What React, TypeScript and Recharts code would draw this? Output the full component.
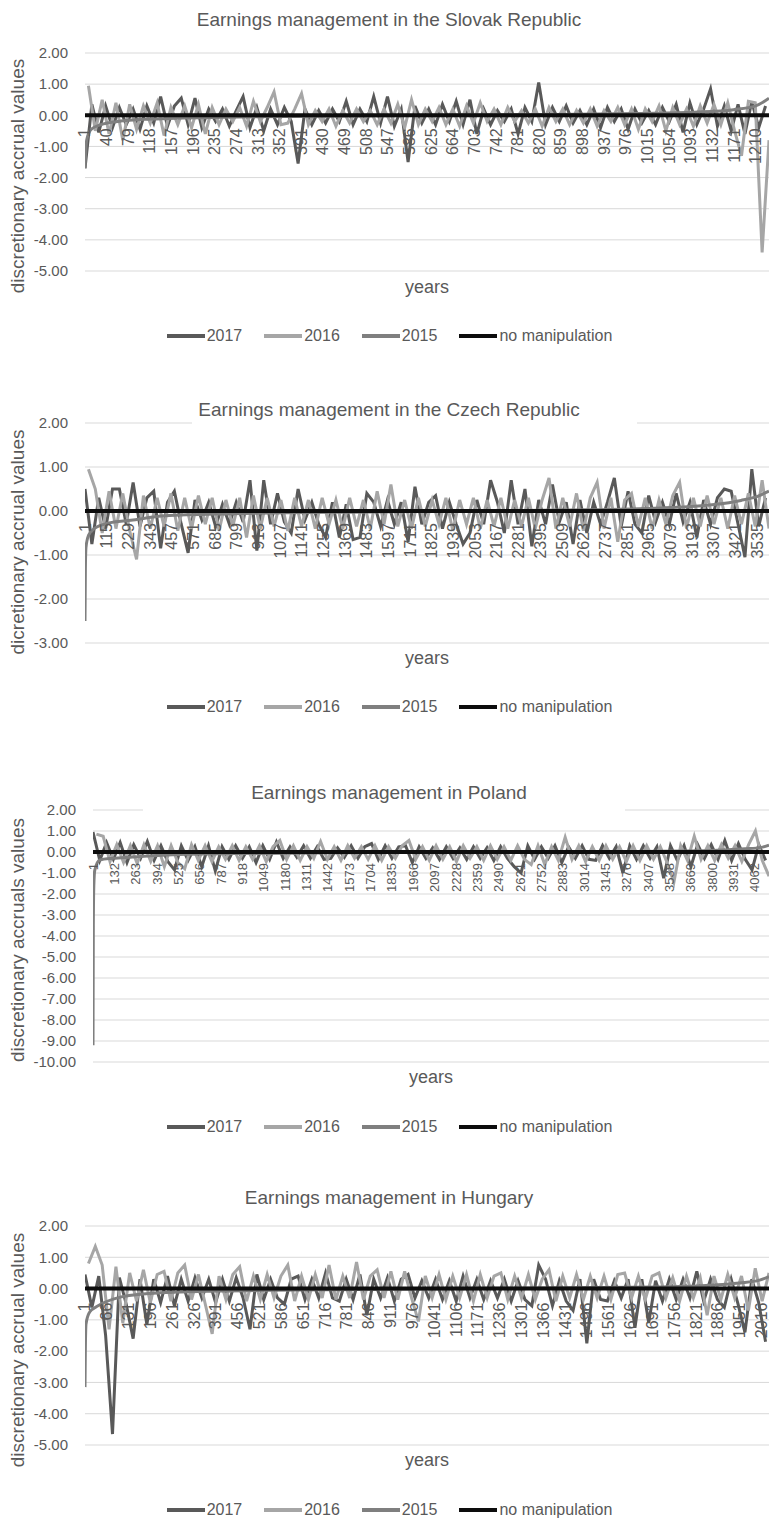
import React from 'react';
import { LineChart, Line, XAxis, YAxis, CartesianGrid, Legend } from 'recharts';

const FONT = "'Liberation Sans', Arial, sans-serif";
const TEXT = '#595959';
const GRID = '#d9d9d9';

const colors: Record<string, string> = {
  '2017': '#595959',
  '2016': '#a6a6a6',
  '2015': '#7f7f7f',
  'no manipulation': '#0d0d0d',
};
const legendOrder = ['2017', '2016', '2015', 'no manipulation'];

// ---- Slovak Republic ----
const slovakFirms = 1234;
const slovakTicks = [1, 40, 79, 118, 157, 196, 235, 274, 313, 352, 391, 430, 469, 508, 547, 586, 625, 664, 703, 742, 781, 820, 859, 898, 937, 976, 1015, 1054, 1093, 1132, 1171, 1210];
const slovak2017 = [
  -1.7, 0.35, -0.55, 0.3, -0.4, 0.25, -0.3, 0.2, -0.45, 0.3,
  -0.25, 0.6, -0.35, 0.3, 0.55, -0.3, 0.55, -0.4, 0.2, -0.2,
  0.2, -0.35, 0.15, 0.6, -0.4, 0.25, -0.5, 0.2, -0.3, 0.25,
  -0.2, -1.55, 0.2, -0.3, 0.15, -0.25, 0.2, -0.2, 0.45, -0.3,
  0.2, -0.2, 0.6, -0.25, 0.6, -0.35, 0.2, -1.5, 0.3, -0.25,
  0.2, -0.3, 0.35, -0.2, 0.45, -0.3, 0.5, -0.6, 0.2, -0.3,
  0.15, -0.2, 0.2, -0.6, 0.25, -0.2, 1.05, -0.3, 0.25, -0.2,
  0.3, -0.25, 0.15, -0.3, 0.2, -0.4, 0.25, -0.2, 0.2, -0.45,
  0.2, -0.25, 0.15, -0.3, 0.25, -0.2, 0.35, -0.55, 0.4, -0.3,
  0.2, 0.85, -0.35, 0.3, -0.5, 0.35, -0.6, 0.45, -0.4, 0.3,
];
const slovak2016 = [
  0.95, -0.5, 0.5, -0.6, 0.4, -0.8, 0.35, -0.45, 0.3, -0.25,
  0.4, -0.65, 0.25, -0.3, 0.3, -0.4, 0.35, -0.6, 0.25, -0.3,
  0.2, -0.2, 0.25, -0.35, 0.45, -0.2, 0.25, 0.75, -0.3, -0.25,
  0.2, 0.7, -0.3, 0.15, -0.2, 0.2, -0.35, 0.15, -0.25, 0.2,
  -0.2, 0.15, -0.3, 0.2, -0.25, 0.35, -0.4, 0.5, -0.3, 0.2,
  -0.2, 0.25, -0.3, 0.2, -0.35, 0.3, -0.25, 0.4, -0.2, 0.2,
  -0.3, 0.25, -0.2, 0.15, -0.25, 0.2, -0.35, 0.25, -0.2, 0.2,
  -0.3, 0.15, -0.25, 0.2, -0.35, 0.15, -0.2, 0.25, -0.3, 0.2,
  -0.45, 0.2, -0.2, 0.3, -0.5, 0.25, -0.3, 0.2, -0.35, 0.3,
  -0.25, 0.35, -0.3, 0.4, -0.5, -1.3, 0.45, 0.4, -4.4, -0.8,
];
const slovak2015Firm = [1, 4, 12, 30, 60, 120, 250, 500, 800, 1000, 1100, 1170, 1210, 1234];
const slovak2015 = [-1.7, -0.8, -0.45, -0.3, -0.2, -0.12, -0.06, -0.02, 0.02, 0.06, 0.1, 0.18, 0.3, 0.55];

// ---- Czech Republic ----
const czechFirms = 3597;
const czechTicks = [1, 115, 229, 343, 457, 571, 685, 799, 913, 1027, 1141, 1255, 1369, 1483, 1597, 1711, 1825, 1939, 2053, 2167, 2281, 2395, 2509, 2623, 2737, 2851, 2965, 3079, 3193, 3307, 3421, 3535];
const czech2017 = [
  0.5, -0.75, 0.3, -0.4, 0.5, 0.5, -0.3, 0.65, -0.35, 0.3,
  0.45, -0.85, 0.2, 0.45, -0.3, -0.95, 0.25, -0.2, 0.2, -0.35,
  0.15, -0.3, 0.2, -0.25, 0.7, -0.9, 0.7, -0.3, 0.4, -0.25,
  -0.5, 0.5, -0.2, 0.2, -0.3, -0.6, 0.2, -0.6, 0.15, -0.65,
  -0.6, 0.4, 0.2, -0.35, 0.25, -0.3, 0.2, -0.7, 0.55, -0.3,
  0.2, 0.35, -0.4, 0.2, -0.3, -0.75, -0.5, 0.25, -0.3, 0.7,
  0.2, -0.5, 0.7, -0.3, 0.5, -0.8, 0.25, -0.3, 0.6, -0.25,
  0.2, -0.75, 0.25, -0.5, 0.2, -0.3, 0.2, 0.75, -0.35, 0.45,
  -0.3, -0.5, 0.35, -0.25, 0.2, -0.3, 0.4, -0.25, 0.2, -0.6,
  0.25, -0.3, 0.3, 0.5, 0.45, -0.3, -1.05, 0.95, -0.35, 0.3,
];
const czech2016 = [
  0.95, 0.5, -0.5, 0.45, -0.4, 0.4, -0.45, -1.1, 0.35, -0.4,
  0.3, -0.35, 0.4, -0.45, 0.3, -0.4, 0.35, -0.3, 0.3, -0.45,
  0.25, -0.35, 0.3, -0.6, 0.35, -0.4, 0.3, -0.35, 0.25, -0.45,
  0.3, -0.35, 0.25, -0.4, 0.3, -0.3, 0.25, -0.4, 0.3, -0.35,
  0.25, -0.4, 0.45, -0.3, 0.6, -0.35, 0.25, -0.4, 0.3, -0.35,
  0.25, -0.3, 0.3, -0.45, 0.25, -0.3, 0.3, -0.4, 0.25, -0.35,
  0.3, -0.4, 0.25, -0.35, 0.3, -0.4, 0.25, 0.75, -0.4, 0.3,
  -0.35, 0.4, -0.45, 0.3, 0.65, -0.4, 0.3, -0.7, 0.25, 0.4,
  -0.35, 0.3, -0.4, 0.25, -0.3, 0.35, 0.65, -0.4, 0.3, -0.35,
  0.35, -0.3, 0.3, -0.4, 0.35, -0.3, 0.4, -0.35, 0.7, -0.4,
];
const czech2015Firm = [1, 3, 6, 20, 53, 120, 242, 421, 770, 1500, 2500, 3034, 3298, 3450, 3540, 3597];
const czech2015 = [-2.5, -1.3, -0.83, -0.55, -0.39, -0.28, -0.21, -0.11, -0.06, -0.02, 0.02, 0.07, 0.14, 0.24, 0.34, 0.45];

// ---- Poland ----
const polandFirms = 4148;
const polandTicks = [1, 132, 263, 394, 525, 656, 787, 918, 1049, 1180, 1311, 1442, 1573, 1704, 1835, 1966, 2097, 2228, 2359, 2490, 2621, 2752, 2883, 3014, 3145, 3276, 3407, 3538, 3669, 3800, 3931, 4062];
const poland2017 = [
  0.95, -0.4, 0.45, -0.35, 0.45, -0.5, 0.35, -0.3, 0.5, -0.4,
  0.3, -0.45, -0.85, 0.3, -0.4, 0.25, -0.7, 0.3, -0.9, 0.25,
  -0.35, 0.3, -0.3, 0.25, -0.5, 0.3, -0.35, 0.48, -0.3, 0.25,
  -0.25, 0.3, -0.3, 0.25, -0.35, -0.3, 0.2, -0.25, 0.3, -0.3,
  0.25, 0.4, -0.35, 0.3, -0.3, 0.25, 0.3, -0.5, 0.25, -0.3,
  0.2, -0.35, 0.25, -0.3, 0.2, -0.35, 0.25, -0.3, 0.2, -0.4,
  0.25, -0.3, -0.7, -1.0, 0.3, -0.35, 0.25, -0.3, 0.3, -0.5,
  0.25, -0.3, 0.3, -0.35, -0.4, 0.3, -0.3, 0.25, -1.0, 0.3,
  -0.35, 0.3, -0.3, 0.25, -1.25, 0.3, -0.4, 0.3, -0.7, 0.35,
  -0.3, 0.35, -0.35, 0.55, -0.4, 0.4, -0.35, -0.85, 0.35, -0.4,
];
const poland2016 = [
  0.85, 0.75, -0.45, 0.35, -0.5, 0.3, -0.55, 0.35, -0.45, 0.3,
  -0.7, 0.3, -0.5, -0.8, 0.35, -0.4, 0.3, -0.45, 0.25, -0.35,
  0.3, -0.4, 0.25, -0.35, 0.3, -0.45, 0.25, 0.55, -0.35, 0.3,
  -0.4, 0.25, -0.3, 0.5, -0.35, 0.25, -0.4, 0.3, -0.3, 0.25,
  -0.35, 0.3, -0.4, 0.25, -0.3, 0.3, 0.55, -0.35, 0.25, -0.4,
  0.3, -0.35, 0.25, -0.45, 0.3, -0.3, 0.25, -0.4, 0.3, -0.35,
  0.25, -0.4, 0.3, -0.35, -0.6, 0.3, -0.6, 0.25, -0.4, 0.7,
  -0.35, 0.3, -0.45, 0.25, -0.4, 0.3, -0.35, 0.25, -0.45, 0.3,
  -0.4, 0.3, -0.35, 0.25, -0.5, -1.45, 0.3, -0.4, 0.75, -0.35,
  0.3, -0.4, 0.35, -0.3, 0.3, -0.45, 0.35, 1.0, -0.4, -1.15,
];
const poland2015Firm = [1, 3, 6, 12, 43, 120, 245, 454, 900, 2000, 3200, 3800, 4000, 4100, 4148];
const poland2015 = [-9.2, -3.5, -1.6, -0.86, -0.38, -0.3, -0.24, -0.14, -0.07, -0.02, 0.02, 0.07, 0.15, 0.22, 0.33];

// ---- Hungary ----
const hungaryFirms = 2038;
const hungaryTicks = [1, 66, 131, 196, 261, 326, 391, 456, 521, 586, 651, 716, 781, 846, 911, 976, 1041, 1106, 1171, 1236, 1301, 1366, 1431, 1496, 1561, 1626, 1691, 1756, 1821, 1886, 1951, 2016];
const hungary2017 = [
  0.45, -0.6, 0.4, -1.5, -4.65, 0.35, -0.5, -1.6, 0.3, -1.15,
  0.3, -0.45, 0.4, -0.55, 0.3, -0.4, 0.35, -0.3, 0.3, -0.45,
  0.3, -0.4, 0.35, -0.3, -1.3, 0.45, -0.35, 0.3, -0.3, -0.5,
  0.3, 0.4, -0.35, 0.3, -0.3, 0.5, -0.3, -0.4, 0.3, -0.35,
  0.45, -0.85, 0.3, -0.3, 0.35, -0.4, 0.3, 0.45, -0.3, 0.25,
  -0.3, 0.3, -0.35, 0.25, -0.4, 0.4, -0.3, 0.3, -0.35, 0.25,
  -0.3, 0.3, -0.4, 0.25, -0.35, -0.55, 0.75, 0.3, -0.55, 0.25,
  -0.4, -0.7, 0.3, -1.75, 0.3, -0.35, -0.4, 0.25, -0.3, 0.3,
  -1.25, 0.3, -1.1, 0.25, -0.4, 0.3, -0.35, 0.3, -0.3, 0.55,
  -0.4, 0.3, -0.35, -0.6, 0.3, -0.5, -1.4, 0.3, -0.45, -1.7,
];
const hungary2016 = [
  0.8, 1.35, 0.75, -1.3, 0.7, -1.1, 0.5, -0.4, 0.6, -0.45,
  0.45, 0.55, -0.4, 0.5, 0.75, -0.35, 0.45, -0.5, -1.45, 0.4,
  -0.35, 0.45, 0.7, -0.4, 0.4, -0.35, 0.45, -0.3, 0.4, 0.75,
  -0.4, 0.4, -0.35, 0.45, -0.3, 0.75, -0.35, 0.4, -0.3, 0.85,
  -0.35, 0.4, 0.6, -0.3, 0.55, -0.35, 0.55, -0.3, -1.05, 0.4,
  -0.3, 0.45, -0.35, 0.4, -0.3, 0.45, -0.4, 0.45, -0.3, 0.4,
  0.5, -0.35, 0.4, -0.3, 0.45, -0.35, 0.3, 0.6, -0.4, 0.4,
  -0.3, 0.45, -0.35, 0.4, -0.3, 0.4, -0.35, 0.45, 0.5, -0.3,
  0.4, -0.35, 0.4, 0.5, -0.3, 0.35, -0.4, 0.4, -0.3, 0.35,
  -0.85, 0.4, -0.35, 0.45, -0.3, 0.4, -0.7, 0.65, -0.4, 0.5,
];
const hungary2015Firm = [1, 2, 4, 15, 40, 90, 190, 400, 800, 1300, 1700, 1850, 1950, 2010, 2038];
const hungary2015 = [-3.15, -2.0, -1.13, -0.75, -0.55, -0.32, -0.16, -0.08, -0.03, 0.01, 0.05, 0.1, 0.18, 0.27, 0.38];

type PanelProps = {
  title: string;
  yLabel: string;
  firms: number;
  ticks: number[];
  s2017: number[];
  s2016: number[];
  firm2015: number[];
  s2015: number[];
  yMin: number;
  yMax: number;
  titleY: number;
  plotTop: number;
  plotBottom: number;
  plotLeft: number;
  yearsY: number;
  legendY: number;
  yLabelY: number;
  mask?: [number, number];
  tickFont: number;
  tickGap: number;
};

function LegendContent({ payload }: any) {
  const items = [...(payload || [])].sort(
    (a: any, b: any) => legendOrder.indexOf(String(a.value)) - legendOrder.indexOf(String(b.value))
  );
  return (
    <div style={{ display: 'flex', justifyContent: 'center', alignItems: 'center', fontFamily: FONT, fontSize: 16, color: TEXT, paddingLeft: 10 }}>
      {items.map((e: any, i: number) => (
        <span key={e.value} style={{ display: 'flex', alignItems: 'center', marginRight: i < items.length - 1 ? 22 : 0 }}>
          <svg width={38} height={6}>
            <line x1={0} y1={3} x2={38} y2={3} stroke={colors[e.value]} strokeWidth={4} />
          </svg>
          <span style={{ marginLeft: 2, lineHeight: '20px' }}>{e.value}</span>
        </span>
      ))}
    </div>
  );
}

function Panel(p: PanelProps) {
  const divTop = p.plotTop - 13;
  const marginTop = 13;
  const axisH = 10;
  const height = p.plotBottom - divTop + axisH;
  const zeroY = marginTop + ((p.plotBottom - p.plotTop) * p.yMax) / (p.yMax - p.yMin);
  const yTicks: number[] = [];
  for (let v = p.yMax; v >= p.yMin; v--) yTicks.push(v);

  // the two noisy series are sampled on interleaved firm positions
  const step = (p.firms - 1) / (p.s2017.length - 0.5);
  const rows2017 = p.s2017.map((v, i) => ({ firm: 1 + i * step, v2017: v }));
  const rows2016 = p.s2016.map((v, i) => ({ firm: 1 + (i + 0.5) * step, v2016: v }));
  const rows2015 = p.firm2015.map((f, i) => ({ firm: f, v2015: p.s2015[i] }));
  const rowsZero = [
    { firm: 1, v0: 0 },
    { firm: p.firms, v0: 0 },
  ];

  const XTick = ({ x, payload }: any) => {
    const ty = zeroY + p.tickGap;
    return (
      <text
        x={x}
        y={ty}
        transform={`rotate(-90 ${x} ${ty})`}
        textAnchor="end"
        dominantBaseline="central"
        style={{ fontSize: p.tickFont, fontFamily: FONT }}
        fill={TEXT}
      >
        {payload.value}
      </text>
    );
  };

  const plotCenterX = (p.plotLeft + 769) / 2;

  return (
    <>
      <div style={{ position: 'absolute', left: 0, top: divTop }}>
        <LineChart width={769} height={height} data={rows2017} margin={{ top: marginTop, right: 0, bottom: 0, left: 0 }}>
          <CartesianGrid vertical={false} stroke={GRID} strokeWidth={1} />
          <XAxis
            dataKey="firm"
            type="number"
            domain={[1, p.firms]}
            ticks={p.ticks}
            interval={0}
            tick={XTick}
            tickLine={false}
            axisLine={false}
            height={axisH}
            allowDataOverflow
          />
          <YAxis
            type="number"
            domain={[p.yMin, p.yMax]}
            ticks={yTicks}
            interval={0}
            width={p.plotLeft}
            tickLine={false}
            axisLine={false}
            tickMargin={11}
            tickFormatter={(v: number) => v.toFixed(2)}
            tick={{ fontSize: 15, fill: TEXT, fontFamily: FONT }}
            allowDataOverflow
          />
          <Line dataKey="v2017" name="2017" stroke={colors['2017']} strokeWidth={3} dot={false} type="linear" isAnimationActive={false} />
          <Line data={rows2016} dataKey="v2016" name="2016" stroke={colors['2016']} strokeWidth={3} dot={false} type="linear" isAnimationActive={false} />
          <Line data={rows2015} dataKey="v2015" name="2015" stroke={colors['2015']} strokeWidth={3} dot={false} type="monotone" isAnimationActive={false} />
          <Line data={rowsZero} dataKey="v0" name="no manipulation" stroke={colors['no manipulation']} strokeWidth={4} dot={false} type="linear" isAnimationActive={false} />
          <Legend
            verticalAlign="middle"
            align="center"
            content={<LegendContent />}
            wrapperStyle={{ top: p.legendY - divTop - 10, left: 0, width: 769, height: 20 }}
          />
        </LineChart>
      </div>
      {p.mask && (
        <div style={{ position: 'absolute', left: p.mask[0], width: p.mask[1] - p.mask[0], top: p.titleY - 14, height: 34, background: '#fff', zIndex: 2 }} />
      )}
      <div style={{ position: 'absolute', left: 0, width: 778, top: p.titleY - 12, lineHeight: '24px', textAlign: 'center', fontFamily: FONT, fontSize: 19, color: TEXT, zIndex: 3 }}>
        {p.title}
      </div>
      <div style={{ position: 'absolute', left: plotCenterX - 60, width: 120, top: p.yearsY - 12, lineHeight: '24px', textAlign: 'center', fontFamily: FONT, fontSize: 18, color: TEXT, zIndex: 3 }}>
        years
      </div>
      <div style={{ position: 'absolute', left: 18 - 160, width: 320, top: p.yLabelY - 12, lineHeight: '24px', textAlign: 'center', fontFamily: FONT, fontSize: 19, color: TEXT, transform: 'rotate(-90deg)', zIndex: 3 }}>
        {p.yLabel}
      </div>
    </>
  );
}

export default function App() {
  return (
    <div style={{ position: 'absolute', left: 0, top: 0, width: 769, height: 1520, background: '#fff', overflow: 'hidden' }}>
      <Panel
        title="Earnings management in the Slovak Republic"
        yLabel="discretionary accrual values"
        firms={slovakFirms}
        ticks={slovakTicks}
        s2017={slovak2017}
        s2016={slovak2016}
        firm2015={slovak2015Firm}
        s2015={slovak2015}
        yMin={-5}
        yMax={2}
        titleY={20}
        plotTop={53}
        plotBottom={271}
        plotLeft={85}
        yearsY={287}
        legendY={336}
        yLabelY={176}
        tickFont={16}
        tickGap={13}
      />
      <Panel
        title="Earnings management in the Czech Republic"
        yLabel="dicretionary accrual values"
        firms={czechFirms}
        ticks={czechTicks}
        s2017={czech2017}
        s2016={czech2016}
        firm2015={czech2015Firm}
        s2015={czech2015}
        yMin={-3}
        yMax={2}
        titleY={410}
        plotTop={423}
        plotBottom={643}
        plotLeft={85}
        yearsY={658}
        legendY={707}
        yLabelY={542}
        mask={[192, 637]}
        tickFont={16}
        tickGap={12}
      />
      <Panel
        title="Earnings management in Poland"
        yLabel="discretionary accruals values"
        firms={polandFirms}
        ticks={polandTicks}
        s2017={poland2017}
        s2016={poland2016}
        firm2015={poland2015Firm}
        s2015={poland2015}
        yMin={-10}
        yMax={2}
        titleY={793}
        plotTop={810}
        plotBottom={1062}
        plotLeft={93}
        yearsY={1077}
        legendY={1127}
        yLabelY={940}
        mask={[143, 625]}
        tickFont={13}
        tickGap={11}
      />
      <Panel
        title="Earnings management in Hungary"
        yLabel="discretionary accrual values"
        firms={hungaryFirms}
        ticks={hungaryTicks}
        s2017={hungary2017}
        s2016={hungary2016}
        firm2015={hungary2015Firm}
        s2015={hungary2015}
        yMin={-5}
        yMax={2}
        titleY={1198}
        plotTop={1226}
        plotBottom={1445}
        plotLeft={85}
        yearsY={1460}
        legendY={1510}
        yLabelY={1350}
        tickFont={16}
        tickGap={14}
      />
    </div>
  );
}
